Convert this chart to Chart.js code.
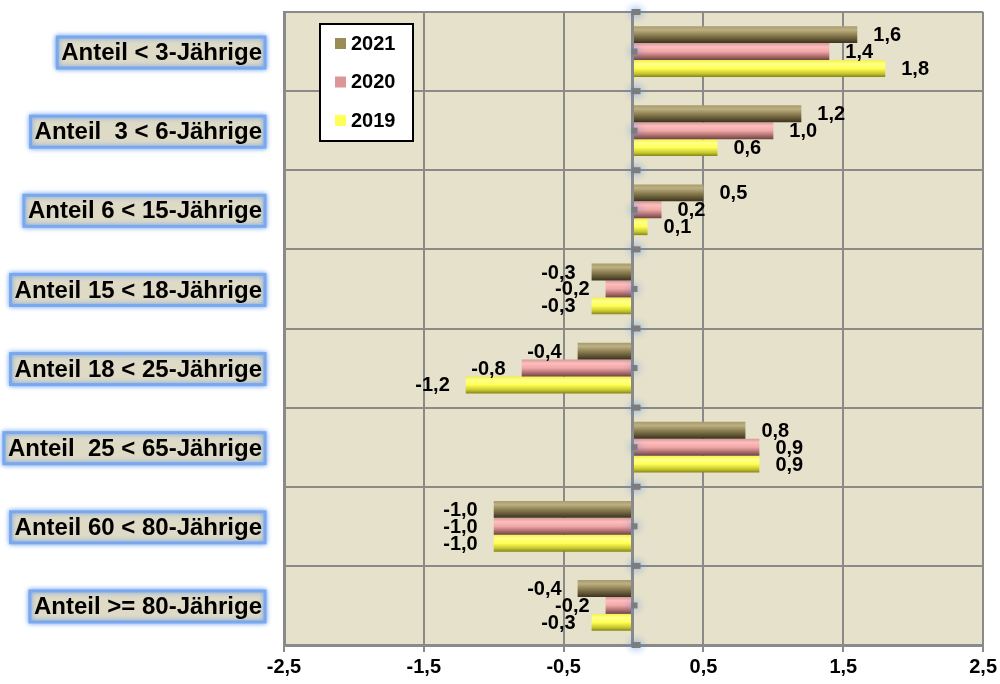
<!DOCTYPE html>
<html lang="de">
<head>
<meta charset="utf-8">
<title>Veränderung der Altersanteile</title>
<script src="https://cdn.jsdelivr.net/npm/chart.js@4.4.1/dist/chart.umd.min.js"></script>
<style>
  html, body { margin: 0; padding: 0; background: #ffffff; }
  #wrap { position: relative; width: 1000px; height: 684px; }
</style>
</head>
<body>
<div id="wrap"><canvas id="chart" width="1000" height="684"></canvas></div>
<script>
// Altersgruppen (von oben nach unten)
const categories = [
  'Anteil < 3-Jährige',
  'Anteil  3 < 6-Jährige',
  'Anteil 6 < 15-Jährige',
  'Anteil 15 < 18-Jährige',
  'Anteil 18 < 25-Jährige',
  'Anteil  25 < 65-Jährige',
  'Anteil 60 < 80-Jährige',
  'Anteil >= 80-Jährige'
];

// Veränderung in Prozentpunkten je Jahr
const values2021 = [1.6, 1.2, 0.5, -0.3, -0.4, 0.8, -1.0, -0.4];
const values2020 = [1.4, 1.0, 0.2, -0.2, -0.8, 0.9, -1.0, -0.2];
const values2019 = [1.8, 0.6, 0.1, -0.3, -1.2, 0.9, -1.0, -0.3];

const seriesLabels = ['2021', '2020', '2019'];

// Beschriftete Achsenwerte
const xTicks = [-2.5, -1.5, -0.5, 0.5, 1.5, 2.5];

const FONT = '"Liberation Sans", Arial, sans-serif';
const CAT_PCT = 0.64;

// Farbverläufe je Serie (Zylinder-Optik)
const seriesStyles = [
  { solid: '#9a8c56', stops: ['#a89b6a', '#bcb084', '#8f8254', '#5d5233', '#3b321e'] },
  { solid: '#dd9696', stops: ['#d49a9a', '#ffbdbd', '#f0a8a8', '#a86a6a', '#6e4343'] },
  { solid: '#ffff55', stops: ['#f2f23e', '#ffff8c', '#ffff55', '#c8c830', '#85851a'] }
];

function fmt(v) { return v.toFixed(1).replace('.', ','); }

function barFill(c) {
  const st = seriesStyles[c.datasetIndex];
  if (c.type !== 'data') return st.solid;
  const chart = c.chart;
  const ys = chart.scales.y;
  if (!ys || !chart.chartArea) return st.solid;
  const center = ys.getPixelForValue(c.dataIndex);
  const band = ys.height / categories.length;
  const group = band * CAT_PCT;
  const th = group / seriesLabels.length;
  const top = center - group / 2 + c.datasetIndex * th;
  const g = chart.ctx.createLinearGradient(0, top, 0, top + th);
  const pos = [0, 0.22, 0.5, 0.8, 1];
  st.stops.forEach((col, i) => g.addColorStop(pos[i], col));
  return g;
}

// Hintergrund der Zeichenfläche
const plotBackground = {
  id: 'plotBackground',
  beforeDraw(chart) {
    const { ctx, chartArea: a } = chart;
    ctx.save();
    ctx.fillStyle = '#e6e1cb';
    ctx.fillRect(a.left, a.top, a.right - a.left, a.bottom - a.top);
    ctx.restore();
  }
};

// Nulllinie mit Markierungen der Kategorieachse
const zeroAxis = {
  id: 'zeroAxis',
  afterDatasetsDraw(chart) {
    const { ctx, chartArea: a, scales: { x, y } } = chart;
    const x0 = Math.round(x.getPixelForValue(0)) - 1.5;
    const band = (a.bottom - a.top) / categories.length;
    ctx.save();
    ctx.strokeStyle = '#8a8a8a';
    ctx.lineWidth = 3;
    ctx.beginPath();
    ctx.moveTo(x0, a.top);
    ctx.lineTo(x0, a.bottom);
    ctx.stroke();
    ctx.shadowColor = 'rgba(70,135,235,0.95)';
    ctx.shadowBlur = 8;
    ctx.fillStyle = '#7c7c7c';
    for (let i = 0; i <= categories.length; i++) {
      const yb = a.top + i * band;
      ctx.fillRect(x0 - 1, yb - 3, 9, 6);
      if (i < categories.length) {
        const yc = y.getPixelForValue(i);
        ctx.fillRect(x0 - 1, yc - 3, 6, 6);
      }
    }
    ctx.restore();
  }
};

// Kategorienbeschriftungen in Kästchen
const categoryBoxes = {
  id: 'categoryBoxes',
  afterDraw(chart) {
    const { ctx, scales: { y } } = chart;
    const right = 262;
    ctx.save();
    ctx.font = 'bold 24px ' + FONT;
    ctx.textBaseline = 'middle';
    ctx.textAlign = 'right';
    categories.forEach((lab, i) => {
      const yc = y.getPixelForValue(i) + 1;
      const w = ctx.measureText(lab).width;
      const bx = right - w - 4, bw = w + 7, by = yc - 15.5, bh = 31;
      ctx.save();
      ctx.shadowColor = 'rgba(90,150,240,0.9)';
      ctx.shadowBlur = 5;
      ctx.fillStyle = '#dedac6';
      ctx.fillRect(bx, by, bw, bh);
      ctx.strokeStyle = '#79a8ee';
      ctx.lineWidth = 3;
      ctx.strokeRect(bx, by, bw, bh);
      ctx.restore();
      ctx.fillStyle = '#000000';
      ctx.fillText(lab, right, yc + 1);
    });
    ctx.restore();
  }
};

// Wertebeschriftungen an den Balkenenden
const valueLabels = {
  id: 'valueLabels',
  afterDatasetsDraw(chart) {
    const { ctx } = chart;
    ctx.save();
    ctx.font = 'bold 20px ' + FONT;
    ctx.fillStyle = '#000000';
    ctx.textBaseline = 'middle';
    chart.data.datasets.forEach((ds, di) => {
      const meta = chart.getDatasetMeta(di);
      meta.data.forEach((el, i) => {
        const v = ds.data[i];
        const pos = v >= 0;
        ctx.textAlign = pos ? 'left' : 'right';
        ctx.fillText(fmt(v), el.x + (pos ? 16 : -16), el.y + 1);
      });
    });
    ctx.restore();
  }
};

// Legende im Diagramm
const boxLegend = {
  id: 'boxLegend',
  afterDraw(chart) {
    const { ctx, chartArea: a } = chart;
    const lx = a.left + 36, ly = a.top + 12, lw = 93, lh = 117;
    ctx.save();
    ctx.fillStyle = '#ffffff';
    ctx.fillRect(lx, ly, lw, lh);
    ctx.strokeStyle = '#000000';
    ctx.lineWidth = 2;
    ctx.strokeRect(lx, ly, lw, lh);
    ctx.font = 'bold 20px ' + FONT;
    ctx.textBaseline = 'middle';
    ctx.textAlign = 'left';
    chart.data.datasets.forEach((ds, i) => {
      const yc = ly + 19 + i * 38.5;
      ctx.fillStyle = seriesStyles[i].solid;
      ctx.fillRect(lx + 15, yc - 5, 11, 11);
      ctx.fillStyle = '#000000';
      ctx.fillText(ds.label, lx + 31, yc + 1);
    });
    ctx.restore();
  }
};

const seriesValues = [values2021, values2020, values2019];

new Chart(document.getElementById('chart'), {
  type: 'bar',
  data: {
    labels: categories,
    datasets: seriesLabels.map((lab, i) => ({
      label: lab,
      data: seriesValues[i],
      backgroundColor: barFill,
      borderWidth: 0,
      categoryPercentage: CAT_PCT,
      barPercentage: 1.0
    }))
  },
  options: {
    indexAxis: 'y',
    responsive: false,
    animation: false,
    devicePixelRatio: 1,
    layout: { padding: { top: 12, right: 15, left: 0, bottom: 0 } },
    plugins: {
      legend: { display: false },
      tooltip: { enabled: false },
      title: { display: false }
    },
    scales: {
      x: {
        type: 'linear',
        min: -2.5,
        max: 2.5,
        afterBuildTicks(s) { s.ticks = xTicks.map(v => ({ value: v })); },
        afterFit(s) { s.height = 39; },
        grid: { color: '#8a8a8a', lineWidth: 2, tickLength: 7, drawTicks: true },
        border: { color: '#8a8a8a', width: 3 },
        ticks: {
          callback: v => fmt(v),
          color: '#000000',
          font: { family: FONT, size: 20, weight: 'bold' },
          padding: 3,
          maxRotation: 0,
          autoSkip: false
        }
      },
      y: {
        type: 'category',
        afterFit(s) { s.width = 284; },
        grid: { color: '#8a8a8a', lineWidth: 2, offset: true, drawTicks: false },
        border: { color: '#8a8a8a', width: 3 },
        ticks: { display: false }
      }
    }
  },
  plugins: [plotBackground, zeroAxis, valueLabels, categoryBoxes, boxLegend]
});
</script>
</body>
</html>
